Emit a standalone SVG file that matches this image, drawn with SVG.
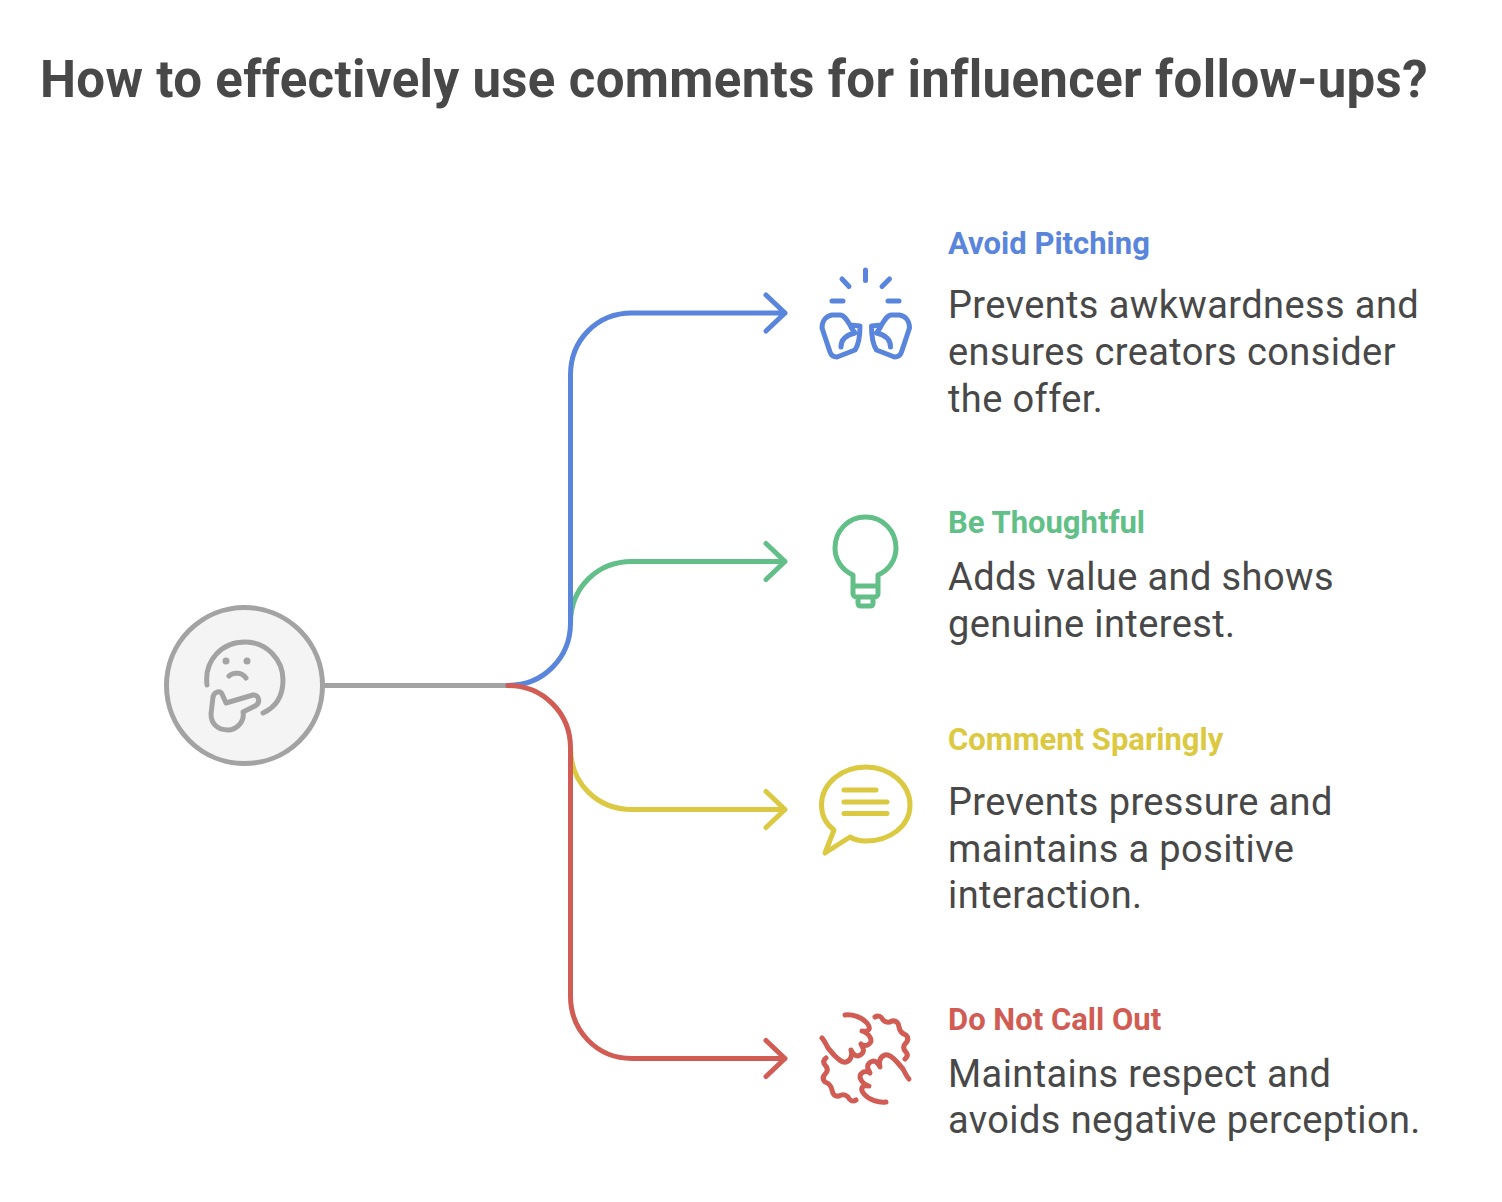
<svg xmlns="http://www.w3.org/2000/svg" width="1502" height="1202" viewBox="0 0 1502 1202">
<style>
text{font-family:Roboto,"Liberation Sans",sans-serif}
.t{font-size:51px;font-weight:700;fill:#484848;letter-spacing:.33px}
.h{font-size:31px;font-weight:700}
.b{font-size:38px;fill:#484848;letter-spacing:.39px}
.l,.i{fill:none;stroke-linecap:round;stroke-linejoin:round}
.l{stroke-width:5px}
.i{stroke-width:5px}
.blue{stroke:#5a85dc}.green{stroke:#62bf88}.yellow{stroke:#dcc942}.red{stroke:#d15c54}.gray{stroke:#a3a3a3}
</style>
<rect width="1502" height="1202" fill="#fff"/>
<text class="t" x="40" y="97">How to effectively use comments for influencer follow-ups?</text>
<g id="connectors">
<path class="l gray" d="M325 685.500H508"/>
<path class="l green" d="M570.500 623C570.500 588 597 561.500 632 561.500H785M766 543.500L785 561.500L766 579.500"/>
<path class="l blue" d="M508 685.500C543 685.500 570.500 658 570.500 623V375C570.500 340 597 313 632 313H785M766 295L785 313L766 331"/>
<path class="l yellow" d="M570.500 748C570.500 783 597 809.500 632 809.500H785M766 791.500L785 809.500L766 827.500"/>
<path class="l red" d="M508 685.500C543 685.500 570.500 713 570.500 748V996C570.500 1031 597 1058.500 632 1058.500H785M766 1040.500L785 1058.500L766 1076.500"/>
</g>
<g id="node-root">
<circle cx="244.500" cy="685.500" r="78" fill="#f4f4f4" stroke="#a3a3a3" stroke-width="5"/>
<path class="i gray" d="M207 685C204 660 222 642 245 642C267 642 283 660 283 680C283 696 276 707 263 713M229 676C233 672 242 672 246 678M213 697C214 692 220 690 222 694L226 703L253 695C259 694 261 703 255 706L243 712C245 722 236 730 228 730C218 730 211 724 211 714Z"/>
<circle cx="226" cy="661" r="3.500" fill="#a3a3a3"/>
<circle cx="247" cy="661" r="3.500" fill="#a3a3a3"/>
</g>
<g id="node-avoid">
<text class="h" x="948" y="254" fill="#5a85dc">Avoid Pitching</text>
<text class="b" x="948" y="318">Prevents awkwardness and</text>
<text class="b" x="948" y="365">ensures creators consider</text>
<text class="b" x="948" y="412">the offer.</text>
<path class="i blue" d="M865.500 270V280.500M842 279L849 286.500M889.500 279L882 286.500M832 301H843M888 301H899M832 315H840C844 315 847 320 850 325L860 326C860 334 859 344 855 350L837 357C833 357 831 355 830 352L822 328C822 321 826 316 832 315ZM850 325C851 328 853 330 855 333C846 335 841 340 841 347"/>
<path class="i blue" transform="matrix(-1 0 0 1 1731.500 0)" d="M832 315H840C844 315 847 320 850 325L860 326C860 334 859 344 855 350L837 357C833 357 831 355 830 352L822 328C822 321 826 316 832 315ZM850 325C851 328 853 330 855 333C846 335 841 340 841 347"/>
</g>
<g id="node-thoughtful">
<text class="h" x="948" y="533" fill="#62bf88">Be Thoughtful</text>
<text class="b" x="948" y="590">Adds value and shows</text>
<text class="b" x="948" y="637">genuine interest.</text>
<path class="i green" d="M853 575V586H878V575C889 570 896 560 896 548C896 531 883 517 865.500 517C848 517 835 531 835 548C835 560 842 570 853 575ZM853 586V594C853 596 855 597 857 597H874C876 597 878 596 878 594V586M858 597V603C858 605 859 606 861 606H870C872 606 873 605 873 603V597"/>
</g>
<g id="node-sparingly">
<text class="h" x="948" y="750" fill="#dcc942">Comment Sparingly</text>
<text class="b" x="948" y="815">Prevents pressure and</text>
<text class="b" x="948" y="862">maintains a positive</text>
<text class="b" x="948" y="908">interaction.</text>
<path class="i yellow" d="M834 830C826 824 821.500 815 821.500 805C821.500 784 841 767 866 767C890 767 910 784 910 805C910 826 890 841 866 841C860 841 855 840 850 837L825 853ZM844 790H876M844 802H887M844 813.500H887"/>
</g>
<g id="node-callout">
<text class="h" x="948" y="1030" fill="#d15c54">Do Not Call Out</text>
<text class="b" x="948" y="1087">Maintains respect and</text>
<text class="b" x="948" y="1133">avoids negative perception.</text>
<path class="i red" d="M845 1015C852 1014 862 1017 867 1023C871 1028 870 1032 862 1031C871 1034 873 1042 869 1044C866 1047 862 1045 861 1044C865 1050 864 1054 858 1056C855 1056 853 1054 851 1050C853 1056 850 1061 846 1062C842 1063 838 1059 834 1055L828 1048C826 1044 824 1040 822 1038M875 1017Q880 1014 883 1020Q887 1024 892 1021Q898 1020 899 1027Q900 1033 906 1035Q910 1039 905 1044Q902 1048 906 1052Q909 1056 905 1059"/>
<path class="i red" transform="rotate(180 865.500 1058.500)" d="M845 1015C852 1014 862 1017 867 1023C871 1028 870 1032 862 1031C871 1034 873 1042 869 1044C866 1047 862 1045 861 1044C865 1050 864 1054 858 1056C855 1056 853 1054 851 1050C853 1056 850 1061 846 1062C842 1063 838 1059 834 1055L828 1048C826 1044 824 1040 822 1038M875 1017Q880 1014 883 1020Q887 1024 892 1021Q898 1020 899 1027Q900 1033 906 1035Q910 1039 905 1044Q902 1048 906 1052Q909 1056 905 1059"/>
</g>
</svg>
